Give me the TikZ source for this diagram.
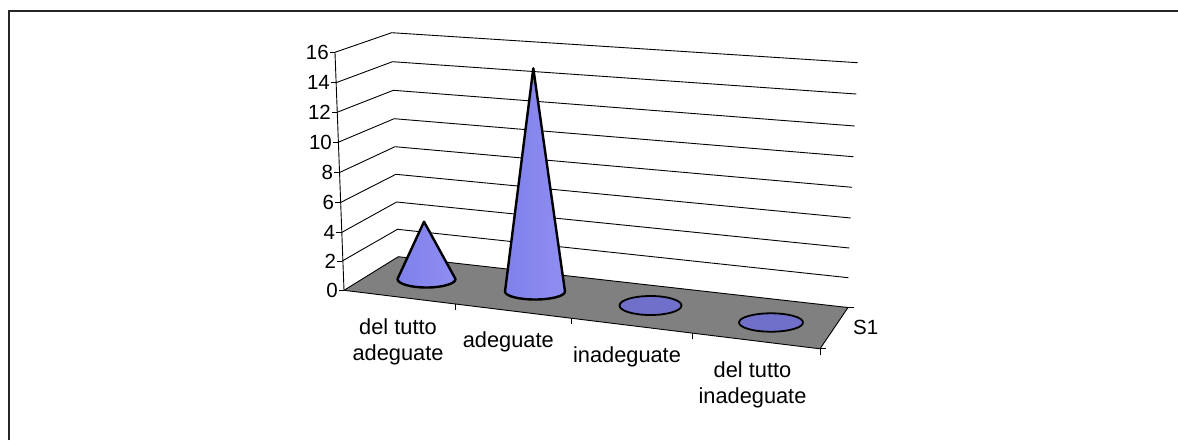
\documentclass[tikz,border=0pt]{standalone}
\usepackage{fontspec}
\setmainfont{Liberation Sans}
\usetikzlibrary{calc}
\definecolor{floorgray}{RGB}{128,128,128}
\definecolor{ellcol}{RGB}{112,112,202}
\definecolor{conel}{RGB}{128,128,235}
\definecolor{conem}{RGB}{172,172,255}
\definecolor{coner}{RGB}{142,142,242}
\begin{document}
\begin{tikzpicture}[x=1pt,y=-1pt,
  gridline/.style={line width=0.9pt,black},
  valuelab/.style={anchor=east,inner sep=0pt,font=\fontsize{20.5}{24}\selectfont},
  catlab/.style={align=center,inner sep=0pt,font=\fontsize{21.8}{26}\selectfont},
  conestyle/.style={line width=2.4pt,line join=round,draw=black,left color=conel,middle color=conem,right color=coner,shading angle=90},
  diskstyle/.style={line width=1.8pt,draw=black,fill=ellcol}]
\useasboundingbox (0,0) rectangle (1178,440);
% outer frame (left and top only)
\draw[line width=1.4pt,black!85] (9,440) -- (9,11) -- (1178,11);
% coordinates of value levels
\coordinate (F0) at (344,290.3);
\coordinate (B0) at (398.3,256.7);
\coordinate (R0) at (848,307.5);
\coordinate (FR) at (820,348.8);
\foreach \k/\fy/\by/\rx/\ry in {1/261/229.3/848.3/277.7, 2/232.7/202/849.3/248,
   3/202.7/174.3/850.7/218, 4/172.7/146.7/852/187.3, 5/142.3/118.7/853.3/156.7,
   6/112.3/90.3/854.7/126, 7/82.7/61.7/856.3/94, 8/52.3/32.7/857.7/62.7}{
  \coordinate (F\k) at ({343.3-1.04*\k},\fy);
  \coordinate (B\k) at ({398.3-0.825*\k},\by);
  \coordinate (R\k) at (\rx,\ry);
  \draw[gridline] (F\k) -- (B\k) -- (R\k);
}
% value axis, ticks and labels
\draw[gridline] (F0) -- (F8);
\foreach \k in {0,...,8}{
  \pgfmathtruncatemacro\val{2*\k}
  \draw[gridline] (F\k) -- ++(-5,0);
  \node[valuelab] (v\k) at ($(F\k)+(-6,0)$) {\val};
}
% floor
\draw[gridline,fill=floorgray] (F0) -- (B0) -- (R0) -- (FR) -- cycle;
% category ticks
\foreach \t/\n in {0.2332/1,0.4769/2,0.7321/3,1/4}{
  \coordinate (T\n) at ($(F0)!\t!(FR)$);
  \draw[gridline] (T\n) -- ++(0,6);
}
% series axis ticks
\draw[gridline] (R0) -- ++(6,0);
\draw[gridline] (FR) -- ++(6,0);
% zero-height disks
\draw[diskstyle] (650.5,305.5) ellipse [x radius=31, y radius=9.5];
\draw[diskstyle] (771,322.5) ellipse [x radius=32, y radius=9.2];
% cones
\shadedraw[conestyle] (424,221.7) -- (397.5,279) arc[start angle=180,end angle=0,x radius=29,y radius=8.5] -- cycle;
\shadedraw[conestyle] (533.3,68.3) -- (505,291.5) arc[start angle=180,end angle=0,x radius=30,y radius=8] -- cycle;
% category labels
\node[catlab] (c1) at (398,342) {del tutto\\adeguate};
\node[catlab] (c2) at (508.3,341.7) {adeguate};
\node[catlab] (c3) at (627,357) {inadeguate};
\node[catlab] (c4) at (752.5,385.2) {del tutto\\inadeguate};
% series label
\node[anchor=west,inner sep=0pt,font=\fontsize{20.5}{24}\selectfont] (s1) at (853,327) {S1};
\end{tikzpicture}
\end{document}
